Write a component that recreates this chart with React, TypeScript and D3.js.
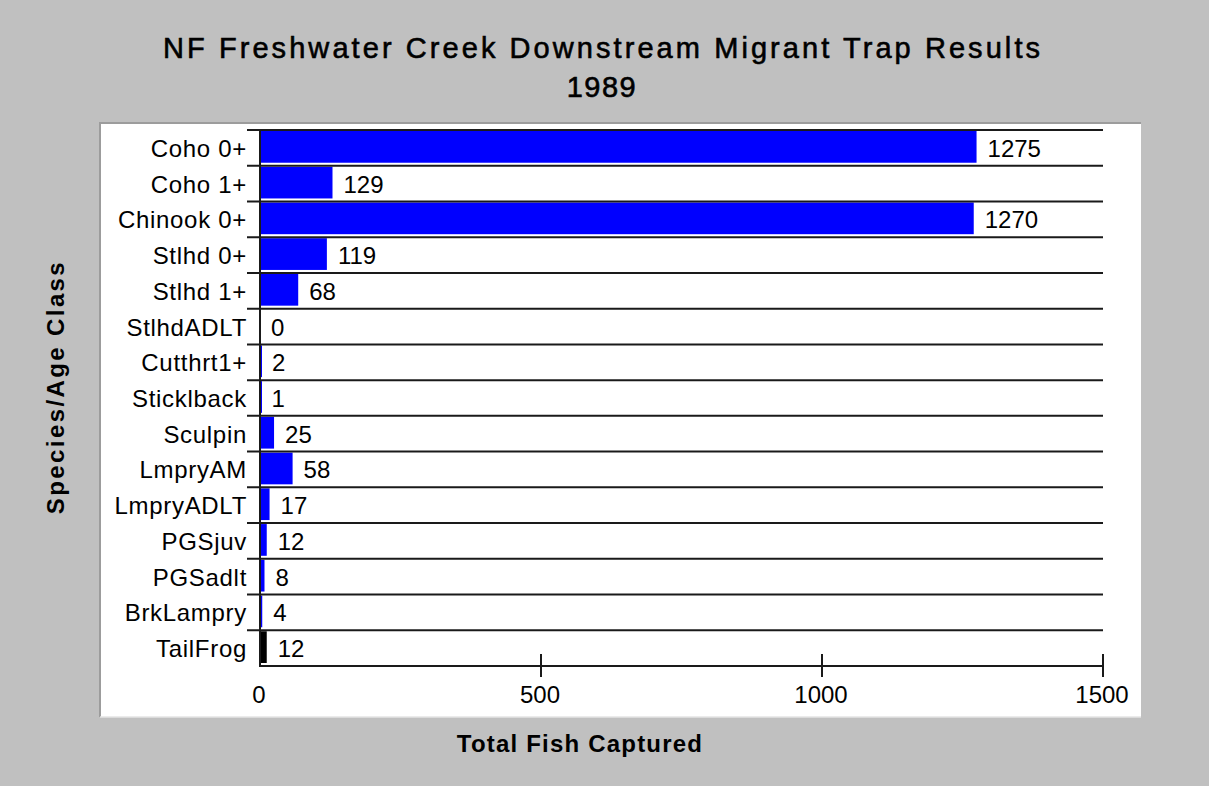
import React from "react";
import * as d3 from "d3";

const categories = [
  "Coho 0+", "Coho 1+", "Chinook 0+", "Stlhd 0+", "Stlhd 1+", "StlhdADLT",
  "Cutthrt1+", "Sticklback", "Sculpin", "LmpryAM", "LmpryADLT", "PGSjuv",
  "PGSadlt", "BrkLampry", "TailFrog",
];
const values = [1275, 129, 1270, 119, 68, 0, 2, 1, 25, 58, 17, 12, 8, 4, 12];
const barColors = [
  "#0000ff", "#0000ff", "#0000ff", "#0000ff", "#0000ff", "#0000ff", "#0000ff",
  "#0000ff", "#0000ff", "#0000ff", "#0000ff", "#0000ff", "#0000ff", "#0000ff", "#000000",
];
const xTicks = [0, 500, 1000, 1500];
const titleLines = ["NF Freshwater Creek Downstream Migrant Trap Results", "1989"];
const xTitle = "Total Fish Captured";
const yTitle = "Species/Age Class";

const W = 1209;
const H = 786;
const plotLeft = 260;
const plotRight = 1103;
const plotTop = 130;
const plotBottom = 666;
const FONT = "'Liberation Sans', Arial, sans-serif";

export default function App() {
  const x = d3.scaleLinear().domain([0, 1500]).range([plotLeft, plotRight]);
  const y = d3.scaleBand<string>().domain(categories).range([plotTop, plotBottom]).padding(0);
  const bw = y.bandwidth();

  return (
    <svg
      width={W}
      height={H}
      style={{ position: "fixed", left: 0, top: 0, display: "block" }}
      fontFamily={FONT}
    >
      <rect x={0} y={0} width={W} height={H} fill="#c0c0c0" />
      {/* panel */}
      <rect x={100} y={123} width={1041} height={594} fill="#ffffff" />
      <line x1={99} y1={123} x2={1141} y2={123} stroke="#9c9c9c" strokeWidth={2} />
      <line x1={100} y1={122} x2={100} y2={717} stroke="#9c9c9c" strokeWidth={2} />
      <line x1={100} y1={717} x2={1141} y2={717} stroke="#e4e4e4" strokeWidth={1.5} />

      {/* title */}
      <text
        x={163}
        y={58}
        fontSize={29}
        textLength={877}
        lengthAdjust="spacing"
        fill="#000"
        stroke="#000"
        strokeWidth={0.6}
      >
        {titleLines[0]}
      </text>
      <text
        x={602}
        y={97}
        fontSize={29}
        textAnchor="middle"
        letterSpacing={1.5}
        fill="#000"
        stroke="#000"
        strokeWidth={0.6}
      >
        {titleLines[1]}
      </text>

      {/* bars */}
      {categories.map((c, i) => {
        const y0 = y(c)!;
        const w = x(values[i]) - x(0);
        return (
          <g key={c}>
            {values[i] > 0 && (
              <rect x={x(0)} y={y0 + 1} width={Math.max(w, 2)} height={bw - 4} fill={barColors[i]} />
            )}
            <text x={x(values[i]) + 11} y={y0 + bw / 2 + 9} fontSize={24} fill="#000">
              {values[i]}
            </text>
            <text
              x={247}
              y={y0 + bw / 2 + 9}
              fontSize={24}
              letterSpacing={0.7}
              textAnchor="end"
              fill="#000"
            >
              {c}
            </text>
          </g>
        );
      })}

      {/* row separators */}
      {categories.map((c) => (
        <line key={"l" + c} x1={247} x2={plotRight} y1={y(c)!} y2={y(c)!} stroke="#1a1a1a" strokeWidth={2} />
      ))}
      <line x1={plotLeft - 1} x2={plotRight} y1={plotBottom} y2={plotBottom} stroke="#1a1a1a" strokeWidth={2} />
      <line x1={plotLeft} x2={plotLeft} y1={plotTop} y2={plotBottom + 1} stroke="#1a1a1a" strokeWidth={2} />

      {/* x axis ticks */}
      {xTicks.map((t) => (
        <g key={t}>
          {t > 0 && (
            <line x1={x(t)} x2={x(t)} y1={654} y2={677} stroke="#1a1a1a" strokeWidth={2} />
          )}
          <text x={x(t) - 1} y={703} fontSize={24} textAnchor="middle" fill="#000">
            {t}
          </text>
        </g>
      ))}

      {/* axis titles */}
      <text
        x={580}
        y={752}
        textAnchor="middle"
        fontSize={24}
        fontWeight="bold"
        letterSpacing={1.2}
        fill="#000"
      >
        {xTitle}
      </text>
      <text
        transform={`translate(64,387) rotate(-90)`}
        textAnchor="middle"
        fontSize={24}
        fontWeight="bold"
        letterSpacing={2.4}
        fill="#000"
      >
        {yTitle}
      </text>
    </svg>
  );
}
